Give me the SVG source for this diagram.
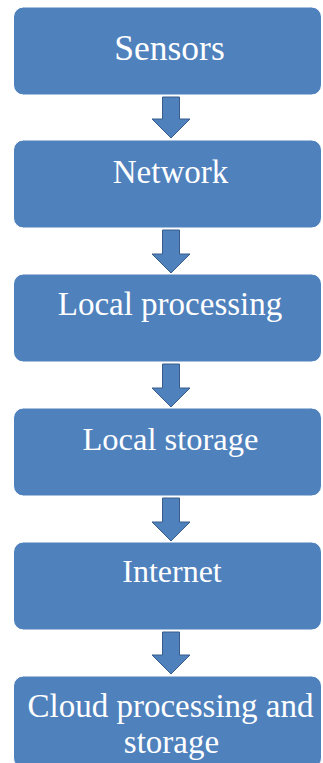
<svg xmlns="http://www.w3.org/2000/svg" width="323" height="763" viewBox="0 0 323 763">
<defs>
<style>
.box{fill:#4f81bd;stroke:#ffffff;stroke-width:1}
.lbl{font-family:'Liberation Serif','Tinos','Times New Roman','Noto Serif','DejaVu Serif',serif;font-size:32.5px;fill:#ffffff;text-anchor:middle}
.arr{fill:#4f81bd;stroke:#385d8a;stroke-width:1;stroke-linejoin:miter}
</style>
</defs>
<rect width="323" height="763" fill="#ffffff"/>
<g id="connectors">
<polygon class="arr" points="162.5,97 179.5,97 179.5,119 190,119 171,138 152,119 162.5,119"/>
<polygon class="arr" points="162.5,230 179.5,230 179.5,254 190,254 171,273 152,254 162.5,254"/>
<polygon class="arr" points="162.5,364 179.5,364 179.5,388 190,388 171,407 152,388 162.5,388"/>
<polygon class="arr" points="162.5,498 179.5,498 179.5,522 190,522 171,541 152,522 162.5,522"/>
<polygon class="arr" points="162.5,632 179.5,632 179.5,655 190,655 171,674 152,655 162.5,655"/>
</g>
<g id="sensors">
<rect class="box" x="13.5" y="7" width="308" height="88" rx="10"/>
<text class="lbl" x="169.5" y="60" font-family="Liberation Serif, serif" style="font-size:35.5px">Sensors</text>
</g>
<g id="network">
<rect class="box" x="13.5" y="140" width="308" height="88" rx="10"/>
<text class="lbl" x="170.5" y="183" style="font-size:33px">Network</text>
</g>
<g id="local-processing">
<rect class="box" x="13.5" y="274" width="308" height="88" rx="10"/>
<text class="lbl" x="170" y="315" style="font-size:33px">Local processing</text>
</g>
<g id="local-storage">
<rect class="box" x="13.5" y="408" width="308" height="88" rx="10"/>
<text class="lbl" x="170.5" y="450">Local storage</text>
</g>
<g id="internet">
<rect class="box" x="13.5" y="542" width="308" height="88" rx="10"/>
<text class="lbl" x="172" y="582" style="font-size:32px">Internet</text>
</g>
<g id="cloud">
<rect class="box" x="13.5" y="676" width="308" height="92" rx="10"/>
<text class="lbl" x="170.5" y="717" style="font-size:33px">Cloud processing and</text>
<text class="lbl" x="171.5" y="753" style="font-size:33px">storage</text>
</g>
</svg>
